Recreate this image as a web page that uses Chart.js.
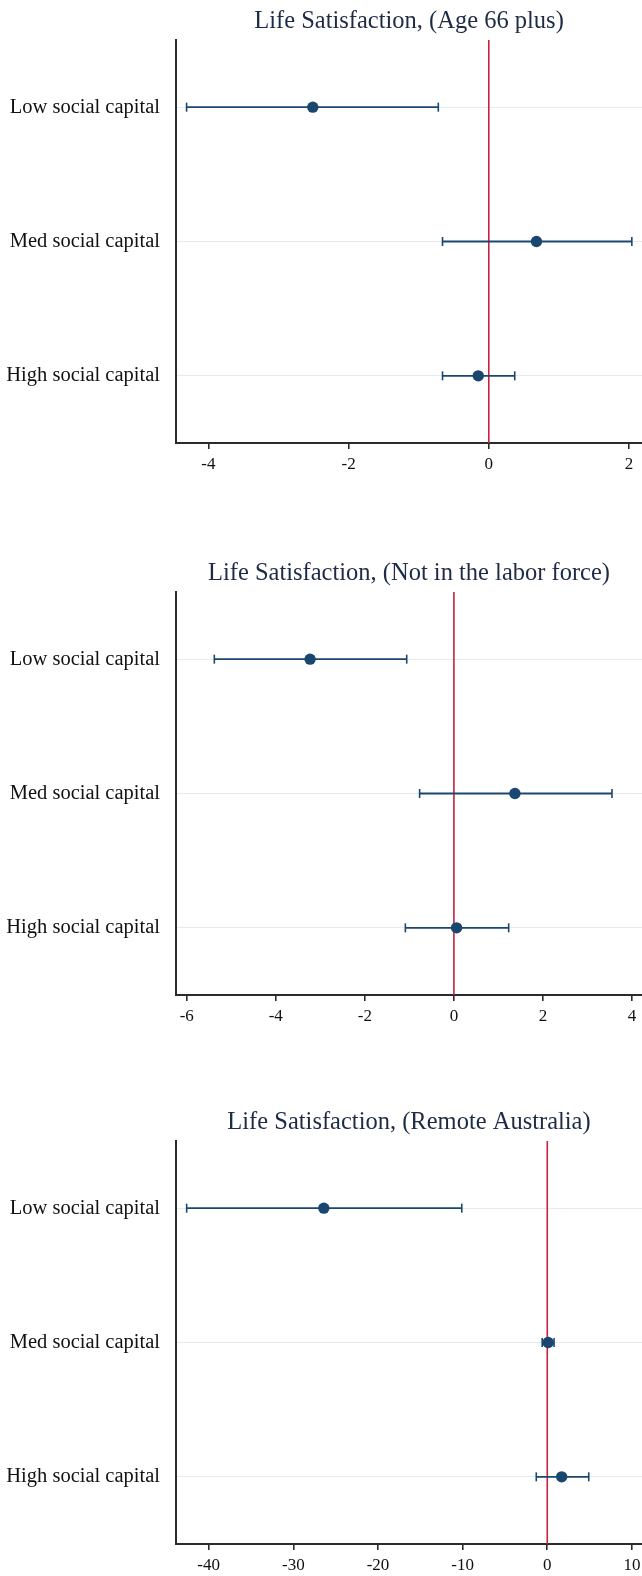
<!DOCTYPE html>
<html>
<head>
<meta charset="utf-8">
<script src="https://cdn.jsdelivr.net/npm/chart.js@4/dist/chart.umd.min.js"></script>
<style>
  html, body { margin: 0; padding: 0; background: #ffffff; overflow: hidden; }
  #wrap { position: relative; width: 642px; height: 1576px; }
  #wrap canvas { position: absolute; left: 0; }
</style>
</head>
<body>
<div id="wrap">
  <canvas id="c1" width="642" height="475" style="top:0px"></canvas>
  <canvas id="c2" width="642" height="475" style="top:552px"></canvas>
  <canvas id="c3" width="642" height="475" style="top:1101px"></canvas>
</div>
<script>
// Row labels shared by all three panels (top to bottom)
const CATEGORIES = ['Low social capital', 'Med social capital', 'High social capital'];

// Panel 1: Age 66 plus
const AGE66_TITLE = 'Life Satisfaction, (Age 66 plus)';
const AGE66_EST = [-2.51, 0.68, -0.15];
const AGE66_LO  = [-4.31, -0.66, -0.66];
const AGE66_HI  = [-0.72, 2.04, 0.37];
const AGE66_TICKS = [-4, -2, 0, 2];

// Panel 2: Not in the labor force
const NILF_TITLE = 'Life Satisfaction, (Not in the labor force)';
const NILF_EST = [-3.23, 1.37, 0.06];
const NILF_LO  = [-5.38, -0.77, -1.09];
const NILF_HI  = [-1.06, 3.55, 1.23];
const NILF_TICKS = [-6, -4, -2, 0, 2, 4];

// Panel 3: Remote Australia
const REMOTE_TITLE = 'Life Satisfaction, (Remote Australia)';
const REMOTE_EST = [-26.4, 0.1, 1.7];
const REMOTE_LO  = [-42.6, -0.6, -1.3];
const REMOTE_HI  = [-10.1, 0.8, 4.9];
const REMOTE_TICKS = [-40, -30, -20, -10, 0, 10];

// Reference value for the vertical line
const REFERENCE_VALUE = 0;

const FONT = 'Liberation Serif, Times New Roman, serif';
const NAVY = '#1a476f';
const RED = '#c8203f';

// Vertical reference line at zero, spanning the plot area
const zeroLine = {
  id: 'zeroLine',
  beforeDatasetsDraw(chart) {
    const { ctx, chartArea, scales } = chart;
    const x = scales.x.getPixelForValue(REFERENCE_VALUE);
    ctx.save();
    ctx.strokeStyle = RED;
    ctx.lineWidth = 1.6;
    ctx.beginPath();
    ctx.moveTo(x, chartArea.top);
    ctx.lineTo(x, chartArea.bottom);
    ctx.stroke();
    ctx.restore();
  }
};

function coefPlot(canvasId, title, est, lo, hi, ticks, xMin, xMax) {
  const bars = CATEGORIES.map((_, i) => ({
    data: [{ x: lo[i], y: i + 1 }, { x: hi[i], y: i + 1 }],
    showLine: true,
    borderColor: NAVY,
    borderWidth: 1.8,
    pointStyle: 'line',
    rotation: 90,
    pointRadius: 4.5,
    pointBorderColor: NAVY,
    pointBorderWidth: 1.6,
    order: 1
  }));
  const points = {
    data: est.map((v, i) => ({ x: v, y: i + 1 })),
    showLine: false,
    pointStyle: 'circle',
    pointRadius: 5.7,
    pointBackgroundColor: NAVY,
    pointBorderColor: NAVY,
    pointBorderWidth: 0,
    order: 0
  };

  new Chart(document.getElementById(canvasId), {
    type: 'scatter',
    data: { datasets: [points, ...bars] },
    plugins: [zeroLine],
    options: {
      responsive: false,
      animation: false,
      devicePixelRatio: 1,
      layout: { padding: 0, autoPadding: false },
      plugins: {
        legend: { display: false },
        tooltip: { enabled: false },
        title: {
          display: true,
          text: title,
          fullSize: false,
          color: '#1e2b45',
          font: { family: FONT, size: 24.5, weight: 'normal', lineHeight: 1.2 },
          padding: { top: 6.5, bottom: 4.1 }
        }
      },
      scales: {
        x: {
          type: 'linear',
          position: 'bottom',
          min: xMin,
          max: xMax,
          afterBuildTicks(scale) { scale.ticks = ticks.map(v => ({ value: v })); },
          afterFit(scale) { scale.height = 32; scale.paddingLeft = 0; scale.paddingRight = 0; },
          border: { display: true, color: '#2b2b2b', width: 2 },
          grid: { display: true, drawOnChartArea: false, drawTicks: true, tickLength: 6, color: '#2b2b2b', lineWidth: 1.6 },
          ticks: {
            autoSkip: false, maxRotation: 0, padding: 5,
            color: '#111111',
            font: { family: FONT, size: 17 },
            callback: v => String(v)
          }
        },
        y: {
          type: 'linear',
          position: 'left',
          reverse: true,
          min: 0.5,
          max: CATEGORIES.length + 0.5,
          afterBuildTicks(scale) { scale.ticks = CATEGORIES.map((_, i) => ({ value: i + 1 })); },
          afterFit(scale) { scale.width = 176; scale.paddingTop = 0; scale.paddingBottom = 0; },
          border: { display: true, color: '#2b2b2b', width: 2 },
          grid: { display: true, drawOnChartArea: true, drawTicks: false, color: '#e9eaec', lineWidth: 1 },
          ticks: {
            autoSkip: false, padding: 16,
            color: '#111111',
            font: { family: FONT, size: 20.5 },
            callback: v => CATEGORIES[Math.round(v) - 1]
          }
        }
      }
    }
  });
}

coefPlot('c1', AGE66_TITLE, AGE66_EST, AGE66_LO, AGE66_HI, AGE66_TICKS, -4.461, 2.185);
coefPlot('c2', NILF_TITLE, NILF_EST, NILF_LO, NILF_HI, NILF_TICKS, -6.241, 4.224);
coefPlot('c3', REMOTE_TITLE, REMOTE_EST, REMOTE_LO, REMOTE_HI, REMOTE_TICKS, -43.86, 11.19);
</script>
</body>
</html>
